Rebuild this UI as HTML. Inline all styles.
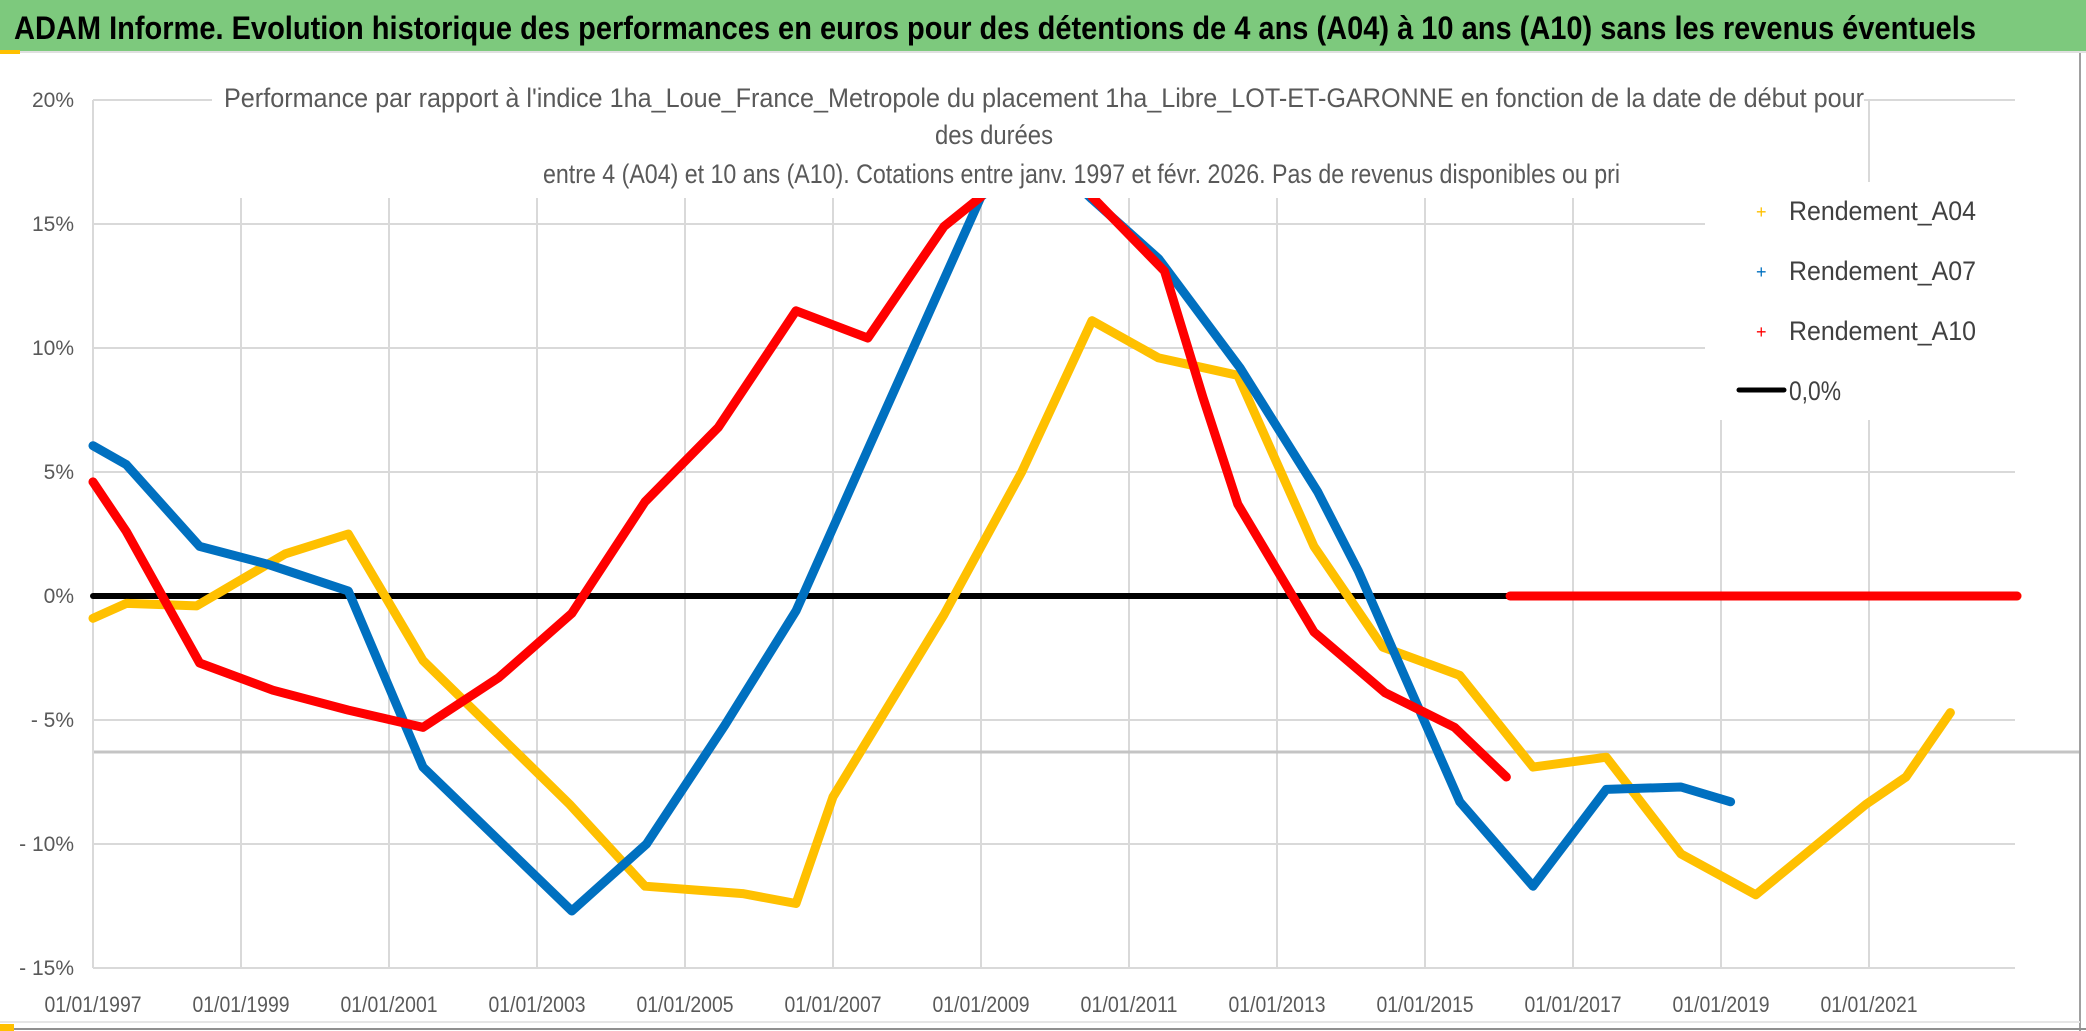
<!DOCTYPE html>
<html><head><meta charset="utf-8">
<style>
html,body{margin:0;padding:0;background:#fff;}
svg{display:block;}
text{font-family:"Liberation Sans",sans-serif;}
</style></head>
<body>
<svg id="chart" width="2086" height="1031" viewBox="0 0 2086 1031" xmlns="http://www.w3.org/2000/svg">
  <rect x="0" y="0" width="2086" height="1031" fill="#fff"/>
  <rect x="0" y="0" width="2086" height="51" fill="#7dc97d"/>
  <line x1="0" y1="52" x2="2086" y2="52" stroke="#e0e0e0" stroke-width="2"/>
  <rect x="0" y="50" width="20" height="4" fill="#ffc000"/>
  <text x="14" y="39" font-size="32" font-weight="bold" fill="#000" textLength="1962" lengthAdjust="spacingAndGlyphs">ADAM Informe. Evolution historique des performances en euros pour des détentions de 4 ans (A04) à 10 ans (A10) sans les revenus éventuels</text>
  <g id="grid"></g>
  <g id="axes"></g>
  <g id="series"></g>
  <rect x="212" y="88" width="1652" height="110" fill="#fff"/>
  <text x="224" y="107" font-size="27" fill="#595959" textLength="1640" lengthAdjust="spacingAndGlyphs">Performance  par rapport à l'indice 1ha_Loue_France_Metropole  du placement 1ha_Libre_LOT-ET-GARONNE en fonction de la date de début pour</text>
  <text x="935" y="144" font-size="27" fill="#595959" textLength="118" lengthAdjust="spacingAndGlyphs">des durées</text>
  <text x="543" y="183" font-size="27" fill="#595959" textLength="1077" lengthAdjust="spacingAndGlyphs">entre 4 (A04) et 10 ans (A10). Cotations entre janv. 1997 et févr. 2026. Pas de revenus disponibles ou pri</text>
  <g>
    <rect x="1705" y="182" width="310" height="238" fill="#fff"/>
    <g>
      <text x="1756" y="218" font-size="18" fill="#ffc000">+</text>
      <text x="1789" y="220" font-size="27" fill="#404040" textLength="187" lengthAdjust="spacingAndGlyphs">Rendement_A04</text>
    </g>
    <g>
      <text x="1756" y="278" font-size="18" fill="#0070c0">+</text>
      <text x="1789" y="280" font-size="27" fill="#404040" textLength="187" lengthAdjust="spacingAndGlyphs">Rendement_A07</text>
    </g>
    <g>
      <text x="1756" y="338" font-size="18" fill="#ff0000">+</text>
      <text x="1789" y="340" font-size="27" fill="#404040" textLength="187" lengthAdjust="spacingAndGlyphs">Rendement_A10</text>
    </g>
    <g>
      <line x1="1739" y1="390" x2="1784" y2="390" stroke="#000" stroke-width="5" stroke-linecap="round"/>
      <text x="1789" y="400" font-size="27" fill="#404040" textLength="52" lengthAdjust="spacingAndGlyphs">0,0%</text>
    </g>
  </g>
  <line x1="2080" y1="53" x2="2080" y2="1031" stroke="#a0a0a0" stroke-width="2"/>
  <line x1="0" y1="1029" x2="2086" y2="1029" stroke="#909090" stroke-width="2"/>
  <line x1="0" y1="1022" x2="2080" y2="1022" stroke="#e6e6e6" stroke-width="2"/>
  <rect x="0" y="1024" width="14" height="7" fill="#ffc000"/>
</svg>
<script>
const yTicks = [20, 15, 10, 5, 0, -5, -10, -15];
const yTickLabels = ["20%", "15%", "10%", "5%", "0%", "- 5%", "- 10%", "- 15%"];
const xTickYears = [1997, 1999, 2001, 2003, 2005, 2007, 2009, 2011, 2013, 2015, 2017, 2019, 2021];
const xTickLabels = ["01/01/1997","01/01/1999","01/01/2001","01/01/2003","01/01/2005","01/01/2007","01/01/2009","01/01/2011","01/01/2013","01/01/2015","01/01/2017","01/01/2019","01/01/2021"];
const a04Years = [1997.0,1997.45,1998.4,1999.6,2000.45,2001.46,2003.44,2004.46,2005.78,2006.5,2007.0,2008.5,2009.55,2010.5,2011.4,2012.47,2013.5,2014.43,2015.47,2016.46,2017.45,2018.46,2019.47,2020.96,2021.5,2022.1];
const a04Values = [-0.9,-0.3,-0.4,1.7,2.5,-2.6,-8.4,-11.7,-12.0,-12.4,-8.1,-0.75,5.0,11.1,9.6,8.9,2.0,-2.06,-3.2,-6.9,-6.5,-10.4,-12.05,-8.4,-7.3,-4.7];
const a07Years = [1997.0,1997.45,1998.44,1999.34,2000.45,2001.46,2003.47,2004.48,2005.54,2006.5,2007.5,2009.0,2009.8,2010.5,2011.4,2012.5,2013.55,2014.1,2015.47,2016.46,2017.45,2018.46,2019.13];
const a07Values = [6.06,5.3,2.0,1.3,0.2,-6.9,-12.7,-10.0,-5.2,-0.6,6.1,16.1,18.0,16.0,13.6,9.2,4.2,1.0,-8.3,-11.7,-7.8,-7.7,-8.3];
const a10Years = [1997.0,1997.45,1998.44,1999.43,2000.45,2001.46,2002.48,2003.47,2004.46,2005.45,2006.5,2007.47,2008.5,2009.0,2009.8,2010.5,2011.48,2012.0,2012.47,2013.5,2014.46,2015.4,2016.1];
const a10Values = [4.6,2.6,-2.7,-3.8,-4.6,-5.3,-3.3,-0.7,3.8,6.8,11.5,10.4,14.9,16.1,20.0,16.1,13.1,8.0,3.7,-1.45,-3.9,-5.3,-7.3];
const a10FlatYears = [2016.15, 2023.0];
const a10FlatValues = [0, 0];
const a04FlatYears = [2022.2, 2023.0];
const a04FlatValues = [0, 0];
const zeroYears = [1997.0, 2016.15];
const zeroValues = [0, 0];

const NS = "http://www.w3.org/2000/svg";
const X0 = 93, PXY = 74, Y0 = 596, PXV = 24.8, XR = 2015;
function xs(yr){ return X0 + (yr - 1997) * PXY; }
function ys(v){ return Y0 - v * PXV; }
function mk(tag, attrs, parent){
  const e = document.createElementNS(NS, tag);
  for (const k in attrs) e.setAttribute(k, attrs[k]);
  parent.appendChild(e);
  return e;
}
const grid = document.getElementById('grid');
const axes = document.getElementById('axes');
const series = document.getElementById('series');

yTicks.forEach((t, i) => {
  const l = mk('line', {x1: X0, x2: XR, y1: ys(t), y2: ys(t), stroke: '#d9d9d9', 'stroke-width': 2}, grid);
  
  
  const tx = mk('text', {x: 74, y: ys(t) + 7, 'font-size': 21, fill: '#595959', 'text-anchor': 'end'}, axes);
  tx.textContent = yTickLabels[i];
  
  
});
xTickYears.forEach((yr, i) => {
  if (i > 0) {
    const l = mk('line', {x1: xs(yr), x2: xs(yr), y1: ys(20), y2: ys(-15), stroke: '#d9d9d9', 'stroke-width': 2}, grid);
    
    
  }
  const tx = mk('text', {x: xs(yr), y: 1012, 'font-size': 22, fill: '#595959', 'text-anchor': 'middle', textLength: 97, lengthAdjust: 'spacingAndGlyphs'}, axes);
  tx.textContent = xTickLabels[i];
  
  
});
const yAxis = mk('line', {x1: X0, x2: X0, y1: ys(20), y2: ys(-15), stroke: '#d9d9d9', 'stroke-width': 2}, axes);


const extra = mk('line', {x1: X0, x2: 2080, y1: 752, y2: 752, stroke: '#c4c4c4', 'stroke-width': 3}, grid);



function drawLine(years, vals, color, width, name){
  const pts = years.map((y, i) => xs(y).toFixed(1) + ',' + ys(vals[i]).toFixed(1)).join(' ');
  const p = mk('polyline', {points: pts, fill: 'none', stroke: color, 'stroke-width': width, 'stroke-linejoin': 'round', 'stroke-linecap': 'round'}, series);
  
  
}
drawLine(zeroYears, zeroValues, '#000', 6, 'zero-line');
drawLine(a04Years, a04Values, '#ffc000', 9, 'series-a04');
drawLine(a04FlatYears, a04FlatValues, '#ffc000', 9, 'series-a04-flat');
drawLine(a07Years, a07Values, '#0070c0', 9, 'series-a07');
drawLine(a10Years, a10Values, '#ff0000', 9, 'series-a10');
drawLine(a10FlatYears, a10FlatValues, '#ff0000', 9, 'series-a10-flat');
</script>
</body></html>
